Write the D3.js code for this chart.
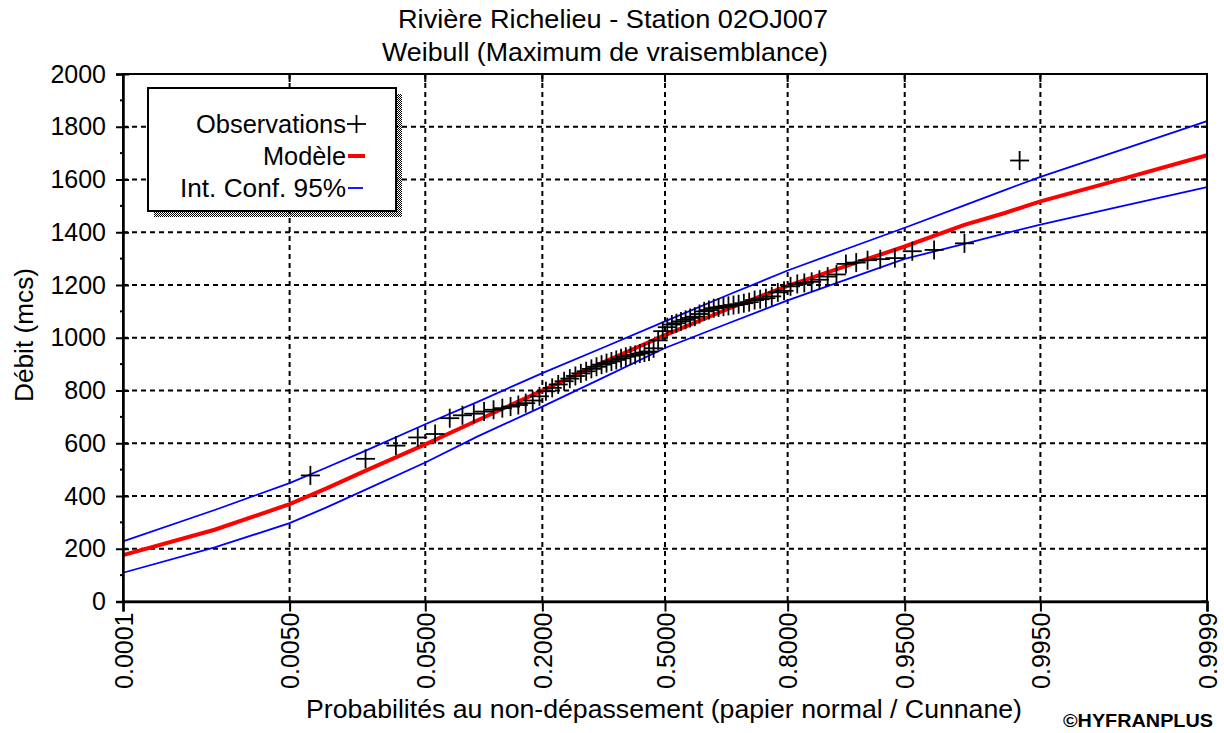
<!DOCTYPE html>
<html>
<head>
<meta charset="utf-8">
<script src="https://cdn.jsdelivr.net/npm/d3@7"></script>
<style>
  html, body { margin: 0; padding: 0; background: #fff; }
  svg { display: block; font-family: "Liberation Sans", Arial, sans-serif; }
</style>
</head>
<body>
<svg id="chart" width="1224" height="733"></svg>
<script>
// Annual maximum flows, sorted ascending (m3/s)
const observations = [
  478, 541, 591, 622, 635, 695, 706, 712, 720, 727,
  733, 739, 745, 752, 762, 778, 797, 810, 823, 835,
  845, 855, 865, 873, 882, 890, 898, 904, 910, 916,
  922, 928, 932, 935, 940, 944, 948, 960, 990, 1025,
  1040, 1050, 1055, 1062, 1068, 1075, 1080, 1090, 1100, 1105,
  1112, 1115, 1118, 1121, 1124, 1127, 1131, 1135, 1143, 1146,
  1150, 1157, 1172, 1178, 1195, 1204, 1208, 1212, 1220, 1232,
  1240, 1280, 1285, 1294, 1298, 1302, 1328, 1333, 1358, 1672
];

// Fitted Weibull quantiles and 95% confidence bounds
const curveProb = [0.0001, 0.001, 0.005, 0.01, 0.02, 0.05, 0.1, 0.2, 0.3333, 0.5,
                   0.6667, 0.8, 0.9, 0.95, 0.98, 0.99, 0.995, 0.999, 0.9999];
const modelQ = [176, 272, 369, 428, 496, 596, 688, 800, 905, 1010,
                1109, 1197, 1279, 1346, 1428, 1472, 1517, 1595, 1692];
const upperQ = [228, 347, 449, 507, 572, 672, 758, 866, 961, 1062,
                1162, 1255, 1344, 1417, 1502, 1559, 1610, 1705, 1821];
const lowerQ = [109, 205, 297, 356, 424, 527, 627, 739, 847, 961,
                1054, 1142, 1228, 1299, 1356, 1395, 1429, 1493, 1571];

// Axis ticks
const probTicks = [0.0001, 0.005, 0.05, 0.2, 0.5, 0.8, 0.95, 0.995, 0.9999];
const probLabels = ["0.0001", "0.0050", "0.0500", "0.2000", "0.5000", "0.8000", "0.9500", "0.9950", "0.9999"];
const flowTicks = [0, 200, 400, 600, 800, 1000, 1200, 1400, 1600, 1800, 2000];
const flowMinor = [100, 300, 500, 700, 900, 1100, 1300, 1500, 1700, 1900];

// Standard normal quantile (Acklam) – gives the normal-probability paper axis
function normInv(p) {
  const a = [-3.969683028665376e+01, 2.209460984245205e+02, -2.759285104469687e+02, 1.383577518672690e+02, -3.066479806614716e+01, 2.506628277459239e+00];
  const b = [-5.447609879822406e+01, 1.615858368580409e+02, -1.556989798598866e+02, 6.680131188771972e+01, -1.328068155288572e+01];
  const c = [-7.784894002430293e-03, -3.223964580411365e-01, -2.400758277161838e+00, -2.549671010229297e+00, 4.374664141464968e+00, 2.938163982698783e+00];
  const d = [7.784695709041462e-03, 3.224671290700398e-01, 2.445134137142996e+00, 3.754408661907416e+00];
  const pl = 0.02425;
  let q, r;
  if (p < pl) {
    q = Math.sqrt(-2 * Math.log(p));
    return (((((c[0]*q+c[1])*q+c[2])*q+c[3])*q+c[4])*q+c[5]) / ((((d[0]*q+d[1])*q+d[2])*q+d[3])*q+1);
  } else if (p <= 1 - pl) {
    q = p - 0.5; r = q * q;
    return (((((a[0]*r+a[1])*r+a[2])*r+a[3])*r+a[4])*r+a[5])*q / (((((b[0]*r+b[1])*r+b[2])*r+b[3])*r+b[4])*r+1);
  } else {
    q = Math.sqrt(-2 * Math.log(1 - p));
    return -(((((c[0]*q+c[1])*q+c[2])*q+c[3])*q+c[4])*q+c[5]) / ((((d[0]*q+d[1])*q+d[2])*q+d[3])*q+1);
  }
}

const svg = d3.select("#chart");
const L = 123, R = 1207, T = 74, B = 601.5;

const x = d3.scaleLinear().domain([normInv(0.0001), normInv(0.9999)]).range([L, R]);
const y = d3.scaleLinear().domain([0, 2000]).range([B, T]);
const px = p => x(normInv(p));

// Dashed grid
const grid = svg.append("g").attr("stroke", "#000").attr("stroke-width", 2).attr("stroke-dasharray", "5,4");
grid.selectAll("line.h").data(flowTicks.filter(v => v > 0 && v < 2000)).join("line")
  .attr("x1", L).attr("x2", R).attr("y1", d => y(d)).attr("y2", d => y(d));
grid.selectAll("line.v").data(probTicks.slice(1, -1)).join("line")
  .attr("y1", T).attr("y2", B).attr("x1", d => px(d)).attr("x2", d => px(d));

// Confidence bounds and model
const line = d3.line().x(d => px(d[0])).y(d => y(d[1]));
const pairs = arr => curveProb.map((p, i) => [p, arr[i]]);
svg.append("path").attr("d", line(pairs(upperQ))).attr("fill", "none").attr("stroke", "#0000ff").attr("stroke-width", 1.8);
svg.append("path").attr("d", line(pairs(lowerQ))).attr("fill", "none").attr("stroke", "#0000ff").attr("stroke-width", 1.8);
svg.append("path").attr("d", line(pairs(modelQ))).attr("fill", "none").attr("stroke", "#ff0000").attr("stroke-width", 4);

// Observations at Cunnane plotting positions
const n = observations.length;
const cross = 9.5;
const obs = svg.append("g").attr("stroke", "#000").attr("stroke-width", 1.8);
observations.forEach((v, i) => {
  const p = (i + 1 - 0.4) / (n + 0.2);
  const cx = px(p), cy = y(v);
  obs.append("line").attr("x1", cx - cross).attr("x2", cx + cross).attr("y1", cy).attr("y2", cy);
  obs.append("line").attr("x1", cx).attr("x2", cx).attr("y1", cy - cross).attr("y2", cy + cross);
});

// Frame
svg.append("rect").attr("x", L).attr("y", T).attr("width", R - L).attr("height", B - T)
  .attr("fill", "none").attr("stroke", "#000").attr("stroke-width", 2);

// Y axis
const yAxis = svg.append("g").attr("transform", `translate(${L},0)`)
  .call(d3.axisLeft(y).tickValues(flowTicks).tickSize(7).tickPadding(10).tickFormat(d3.format("d")));
yAxis.select(".domain").attr("stroke-width", 2.5);
yAxis.selectAll(".tick line").attr("stroke-width", 2).attr("x2", 6).attr("x1", -7);
yAxis.selectAll(".tick text").attr("font-size", 25).attr("fill", "#000").attr("font-family", "Liberation Sans, Arial, sans-serif");
svg.append("g").attr("stroke", "#000").attr("stroke-width", 2)
  .selectAll("line").data(flowMinor).join("line")
  .attr("x1", L - 3).attr("x2", L).attr("y1", d => y(d)).attr("y2", d => y(d));
// Right-edge ticks
svg.append("g").attr("stroke", "#000").attr("stroke-width", 2)
  .selectAll("line").data(flowTicks).join("line")
  .attr("x1", R - 6).attr("x2", R).attr("y1", d => y(d)).attr("y2", d => y(d));

// X axis
const xAxis = svg.append("g").attr("transform", `translate(0,${B})`)
  .call(d3.axisBottom(x).tickValues(probTicks.map(normInv)).tickSize(10)
    .tickFormat((d, i) => probLabels[i]));
xAxis.select(".domain").attr("stroke-width", 2.5);
xAxis.selectAll(".tick line").attr("stroke-width", 2);
xAxis.selectAll(".tick text")
  .attr("font-size", 25).attr("fill", "#000").attr("font-family", "Liberation Sans, Arial, sans-serif")
  .attr("transform", "rotate(-90)").attr("text-anchor", "end")
  .attr("x", -11).attr("y", 0).attr("dy", "0.36em");
// Top-edge ticks
svg.append("g").attr("stroke", "#000").attr("stroke-width", 2)
  .selectAll("line").data(probTicks).join("line")
  .attr("x1", d => px(d)).attr("x2", d => px(d)).attr("y1", T).attr("y2", T + 8);

// Titles
const txt = (s, xx, yy, size, len) => svg.append("text").attr("x", xx).attr("y", yy)
  .attr("font-size", size).attr("text-anchor", "middle").attr("fill", "#000")
  .attr("textLength", len).attr("lengthAdjust", "spacingAndGlyphs").text(s);
txt("Rivière Richelieu - Station 02OJ007", 613, 28, 25, 430);
txt("Weibull (Maximum de vraisemblance)", 605, 61, 25, 446);
txt("Probabilités au non-dépassement (papier normal / Cunnane)", 664, 718, 25, 716);
txt("Débit (mcs)", 0, 0, 25, 134).attr("transform", "translate(33,335) rotate(-90)");
svg.append("text").attr("x", 1213).attr("y", 727).attr("text-anchor", "end")
  .attr("font-size", 18).attr("font-weight", "bold").attr("fill", "#000")
  .attr("textLength", 150).attr("lengthAdjust", "spacingAndGlyphs").text("©HYFRANPLUS");

// Legend with hatched drop shadow
const defs = svg.append("defs");
const pat = defs.append("pattern").attr("id", "hatch").attr("width", 2).attr("height", 2)
  .attr("patternUnits", "userSpaceOnUse");
pat.append("rect").attr("width", 1).attr("height", 1).attr("fill", "#000");
pat.append("rect").attr("x", 1).attr("y", 1).attr("width", 1).attr("height", 1).attr("fill", "#000");
const lg = { x: 148, y: 88, w: 248, h: 123 };
svg.append("rect").attr("x", lg.x + 6).attr("y", lg.y + 6).attr("width", lg.w).attr("height", lg.h)
  .attr("fill", "url(#hatch)");
svg.append("rect").attr("x", lg.x).attr("y", lg.y).attr("width", lg.w).attr("height", lg.h)
  .attr("fill", "#fff").attr("stroke", "#000").attr("stroke-width", 2);

const legendRows = [
  { label: "Observations", kind: "cross", len: 150 },
  { label: "Modèle", kind: "model", len: 83 },
  { label: "Int. Conf. 95%", kind: "ci", len: 166 }
];
legendRows.forEach((r, i) => {
  const by = 133 + i * 32;
  svg.append("text").attr("x", 346).attr("y", by).attr("text-anchor", "end")
    .attr("font-size", 25).attr("fill", "#000")
    .attr("textLength", r.len).attr("lengthAdjust", "spacingAndGlyphs").text(r.label);
  const cy = by - 9;
  if (r.kind === "cross") {
    svg.append("line").attr("x1", 347).attr("x2", 366).attr("y1", cy).attr("y2", cy).attr("stroke", "#000").attr("stroke-width", 1.8);
    svg.append("line").attr("x1", 356.5).attr("x2", 356.5).attr("y1", cy - 9).attr("y2", cy + 9).attr("stroke", "#000").attr("stroke-width", 1.8);
  } else if (r.kind === "model") {
    svg.append("line").attr("x1", 348).attr("x2", 365).attr("y1", cy).attr("y2", cy).attr("stroke", "#ff0000").attr("stroke-width", 4);
  } else {
    svg.append("line").attr("x1", 348).attr("x2", 363).attr("y1", cy).attr("y2", cy).attr("stroke", "#0000ff").attr("stroke-width", 1.8);
  }
});
</script>
</body>
</html>
